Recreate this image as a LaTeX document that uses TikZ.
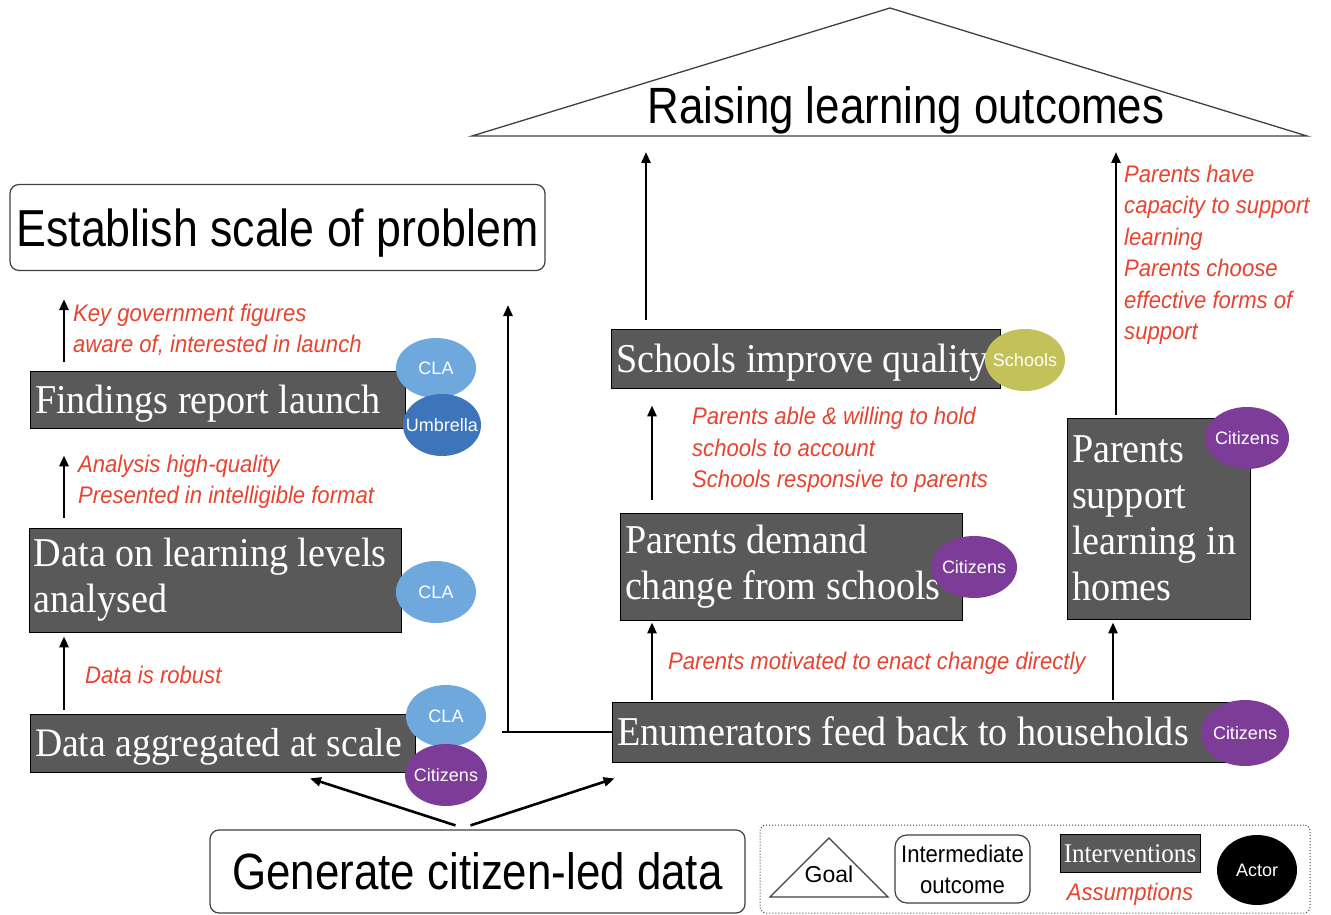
\documentclass[tikz,border=0pt]{standalone}
\usepackage{fontspec}
\usetikzlibrary{arrows.meta,shapes.geometric,calc}
\setlength{\parindent}{0pt}
\newfontfamily\boxfont[FakeStretch=0.93]{Liberation Serif}
\newfontfamily\bigfont[FakeStretch=0.86]{Liberation Sans}
\newfontfamily\lblfont{Liberation Sans}
\newfontfamily\asfont[FakeStretch=0.92]{Liberation Sans}
\newcommand{\actortext}[1]{\makebox[0pt]{#1}}
\definecolor{boxgray}{HTML}{595959}
\definecolor{asred}{HTML}{E8432F}
\definecolor{clablue}{HTML}{6FA8DC}
\definecolor{umbblue}{HTML}{3D74BA}
\definecolor{citpurple}{HTML}{7D3C98}
\definecolor{schoololive}{HTML}{C2C15A}
\definecolor{edgegray}{HTML}{404040}
\tikzset{
  ibox/.style={draw=black, line width=0.8pt, fill=boxgray, text=white, inner xsep=5pt, inner ysep=0pt, align=flush left, font={\boxfont\fontsize{41}{46}\selectfont}},
  rbox/.style={draw=edgegray, line width=1.2pt, rounded corners=9pt, fill=white, inner sep=0pt, font={\bigfont\fontsize{52}{60}\selectfont}},
  capc/.style={text height=#1, text depth=0pt},
  astext/.style={text=asred, font={\asfont\itshape\fontsize{24}{31.5}\selectfont}, align=left, inner sep=0pt, anchor=west},
  actor/.style={ellipse, draw=none, fill=#1, text=white, inner sep=0pt, text height=13pt, text depth=0pt, font={\lblfont\fontsize{18}{20}\selectfont}},
  arr/.style={line width=2.6pt, -{Triangle[length=11pt,width=9pt]}},
}
\begin{document}
\begin{tikzpicture}[x=1pt,y=-1pt]
\fill[white] (0,0) rectangle (1331,915);
\useasboundingbox (0,0) rectangle (1331,915);

% goal triangle
\coordinate (goalL) at (472,136);
\coordinate (goalT) at (890,8);
\coordinate (goalR) at (1307,136);
\draw[draw=edgegray, line width=1.3pt, line join=miter] (goalL) -- (goalT) -- (goalR) -- cycle;
\node[anchor=base, inner sep=0pt, font={\bigfont\fontsize{51}{60}\selectfont}] (goal) at (906,124) {Raising learning outcomes};

% intermediate outcomes
\node[rbox, capc=37pt, minimum width=535pt, minimum height=86pt] (est) at (277.5,227.5) {Establish scale of problem};
\node[rbox, capc=36pt, minimum width=535pt, minimum height=83pt, font={\bigfont\fontsize{51}{60}\selectfont}] (gen) at (477.5,871.5) {Generate citizen-led data};

% interventions
\node[ibox, capc=27pt, text width=365pt, minimum height=57pt] (find) at (217.5,399.5) {\mbox{Findings report launch}};
\node[ibox, text width=362pt, minimum height=104pt] (dlla) at (215,580) {\mbox{Data on learning levels}\\\mbox{analysed}};
\node[ibox, capc=27pt, text width=375pt, minimum height=58pt, font={\boxfont\fontsize{40.5}{46}\selectfont}] (agg) at (222.5,743) {\mbox{Data aggregated at scale}};
\node[ibox, capc=27pt, text width=606pt, minimum height=60pt] (enum) at (920,732) {\mbox{Enumerators feed back to households}};
\node[ibox, text width=332pt, minimum height=107pt] (pdcs) at (791,566.5) {\mbox{Parents demand}\\\mbox{change from schools}};
\node[ibox, capc=27pt, text width=379pt, minimum height=59pt] (siq) at (805.5,358.5) {\mbox{Schools improve quality}};
\node[ibox, text width=173pt, minimum height=201pt] (psl) at (1158.5,518.5) {\mbox{Parents}\\\mbox{support}\\\mbox{learning in}\\\mbox{homes}};

% actors
\node[actor=clablue, minimum width=80pt, minimum height=60pt] (cla1) at (436,368) {\actortext{CLA}};
\node[actor=umbblue, minimum width=78pt, minimum height=62pt] (umb) at (442,425) {\actortext{Umbrella}};
\node[actor=clablue, minimum width=80pt, minimum height=62pt] (cla2) at (436,592) {\actortext{CLA}};
\node[actor=clablue, minimum width=80pt, minimum height=62pt] (cla3) at (446,716) {\actortext{CLA}};
\node[actor=citpurple, minimum width=82pt, minimum height=62pt] (cit1) at (446,775) {\actortext{Citizens}};
\node[actor=citpurple, minimum width=88pt, minimum height=66pt] (cit2) at (1245,733) {\actortext{Citizens}};
\node[actor=citpurple, minimum width=86pt, minimum height=62pt] (cit3) at (974,567) {\actortext{Citizens}};
\node[actor=schoololive, minimum width=80pt, minimum height=62pt] (sch) at (1025,360) {\actortext{Schools}};
\node[actor=citpurple, minimum width=84pt, minimum height=62pt] (cit4) at (1247,438) {\actortext{Citizens}};

% assumptions
\node[astext] (as1) at (73,330) {Key government figures\\aware of, interested in launch};
\node[astext] (as2) at (78,482) {Analysis high-quality\\Presented in intelligible format};
\node[astext] (as3) at (85,675) {Data is robust};
\node[astext] (as4) at (668,663) {Parents motivated to enact change directly};
\node[astext] (as5) at (692,450) {Parents able \& willing to hold\\schools to account\\Schools responsive to parents};
\node[astext] (as6) at (1124,255) {Parents have\\capacity to support\\learning\\Parents choose\\effective forms of\\support};

% arrow x positions
\coordinate (ax1) at (64,0);
\coordinate (ax7) at (652,0);
\coordinate (ax8) at (1113,0);
\coordinate (ax10) at (646,0);
\coordinate (ax11) at (1116,0);
\coordinate (up) at (508,305);

\draw[arr, shorten <=9pt, shorten >=28pt] (find.north -| ax1) -- (est.south -| ax1);
\draw[arr, shorten <=10pt, shorten >=27pt] (dlla.north -| ax1) -- (find.south -| ax1);
\draw[arr, shorten <=4pt, shorten >=4pt] (agg.north -| ax1) -- (dlla.south -| ax1);
\draw[arr, line join=miter] ([xshift=1pt]enum.west) -- ([xshift=-6pt]enum.west -| up) -- (enum.west -| up) -- (up);
\draw[arr] ($(gen.north)+(-22,-4)$) -- ($(agg.south)+(87.5,6)$);
\draw[arr] ($(gen.north)+(-7,-4)$) -- ($(enum.south west)+(3,16)$);
\draw[arr, shorten <=2pt, shorten >=2pt] (enum.north -| ax7) -- (pdcs.south -| ax7);
\draw[arr, shorten <=2pt, shorten >=3pt] (enum.north -| ax8) -- (psl.south -| ax8);
\draw[arr, shorten <=13pt, shorten >=17pt] (pdcs.north -| ax7) -- (siq.south -| ax7);
\draw[arr, shorten <=9pt, shorten >=16pt] (siq.north -| ax10) -- (goalL -| ax10);
\draw[arr, shorten <=3pt, shorten >=16pt] (psl.north -| ax11) -- (goalL -| ax11);

% legend
\node[draw=edgegray, dotted, line width=1pt, rounded corners=6pt, minimum width=550pt, minimum height=88pt, inner sep=0pt] (legend) at (1035,869) {};
\coordinate (lgL) at (770,897);
\coordinate (lgT) at (829,838);
\coordinate (lgR) at (888,897);
\draw[draw=edgegray, line width=1.2pt, line join=miter] (lgL) -- (lgT) -- (lgR) -- cycle;
\node[inner sep=0pt, capc=16pt, font={\lblfont\fontsize{23}{28}\selectfont}] (lgoal) at (829,874) {Goal};
\node[draw=edgegray, line width=1.2pt, rounded corners=12pt, minimum width=135pt, minimum height=68pt, inner sep=0pt, align=center, font={\asfont\fontsize{24}{31}\selectfont}] (lint) at (962.5,869) {Intermediate\\outcome};
\node[draw=black, line width=0.8pt, fill=boxgray, text=white, minimum width=140pt, minimum height=38pt, inner sep=0pt, capc=18pt, font={\boxfont\fontsize{27}{30}\selectfont}] (lintv) at (1130,853) {Interventions};
\node[text=asred, inner sep=0pt, capc=17pt, font={\asfont\itshape\fontsize{24}{28}\selectfont}] (lass) at (1130,892) {Assumptions};
\node[actor=black, minimum width=80pt, minimum height=70pt] (lact) at (1257,870) {\actortext{Actor}};
\end{tikzpicture}
\end{document}
